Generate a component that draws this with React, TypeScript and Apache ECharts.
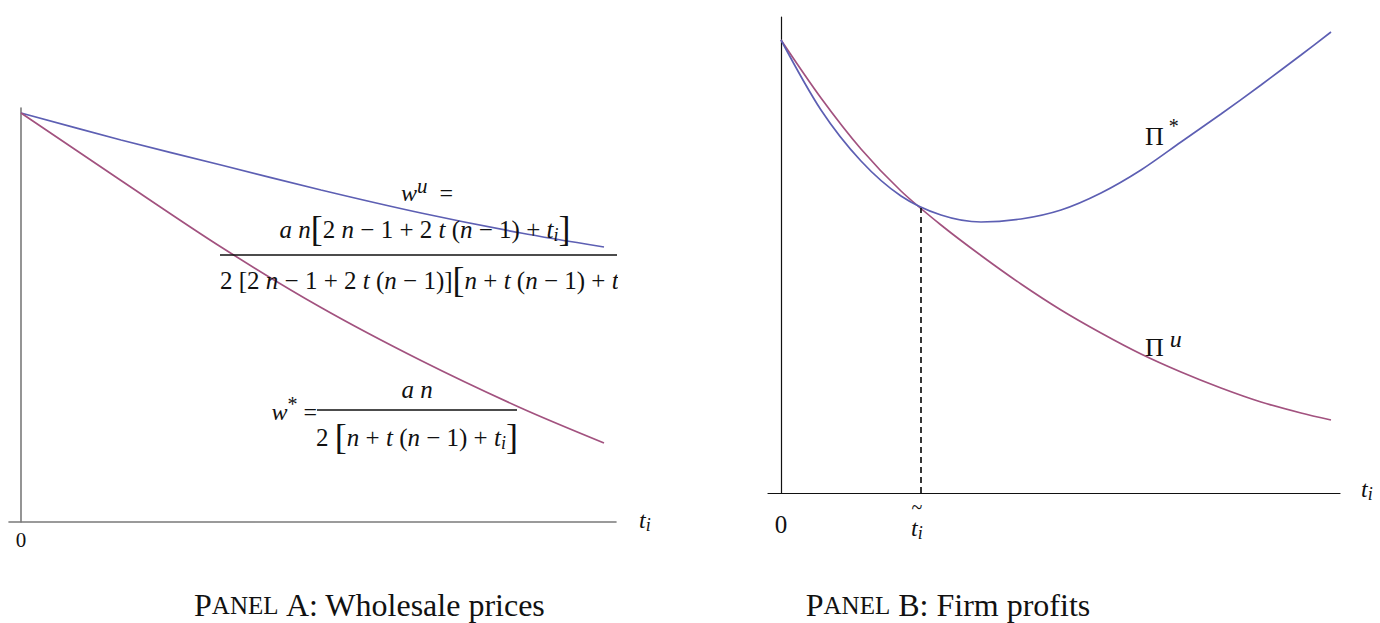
import React, { useEffect, useRef } from "react";
import * as echarts from "echarts";

// Panel A: wholesale prices (t_i on x axis)
const tA = [0, 1, 2, 3, 4, 5, 5.83];
const wU = [4.09, 3.82, 3.57, 3.32, 3.09, 2.89, 2.75];
const wStar = [4.09, 3.415, 2.75, 2.145, 1.615, 1.14, 0.79];

// Panel B: firm profits
const tPiStar = [0, 0.4, 0.8, 1.2, 1.6, 2.0, 2.4, 2.8, 3.2, 3.6, 4.0, 4.4, 4.8, 5.2, 5.5];
const piStar = [4.53, 3.83, 3.32, 2.97, 2.78, 2.71, 2.74, 2.83, 3.0, 3.23, 3.51, 3.79, 4.08, 4.38, 4.61];
const tPiU = [0, 0.4, 0.8, 1.2, 1.6, 2.0, 2.4, 2.8, 3.2, 3.6, 4.0, 4.4, 4.8, 5.2, 5.5];
const piU = [4.53, 3.95, 3.44, 3.02, 2.68, 2.375, 2.09, 1.83, 1.6, 1.39, 1.21, 1.05, 0.91, 0.8, 0.73];
const tTilde = 1.4;
const crossV = 2.85;

const BLUE = "#5d5fb3";
const PURPLE = "#a2527f";
const FAM = '"Liberation Serif"';
const f = (size: number, italic = false) => `${italic ? "italic " : ""}${size}px ${FAM}`;
const INK = "#111";

const rich = {
  it: { font: f(25, true), fill: INK, lineHeight: 28 },
  r: { font: f(25), fill: INK, lineHeight: 28 },
  itb: { font: f(24, true), fill: INK, lineHeight: 36 },
  rb: { font: f(24), fill: INK, lineHeight: 36 },
  br: { font: f(36), fill: INK, lineHeight: 30 },
  sub: { font: f(18, true), fill: INK, verticalAlign: "bottom", lineHeight: 14 },
  sup: { font: f(21, true), fill: INK, verticalAlign: "top", lineHeight: 18 },
  star: { font: f(20), fill: INK, verticalAlign: "top", lineHeight: 20 },
  big: { font: f(32), fill: INK },
  sc: { font: f(25), fill: INK },
  z20: { font: f(21), fill: INK },
  z24: { font: f(25), fill: INK },
  lt: { font: f(24, true), fill: INK, lineHeight: 28 },
  tl: { font: f(20), fill: INK, lineHeight: 8 },
  pi: { font: f(26), fill: INK, lineHeight: 40 },
  psup: { font: f(20), fill: INK, verticalAlign: "top", lineHeight: 20 },
  psupi: { font: f(24, true), fill: INK, verticalAlign: "top", lineHeight: 20 },
};

function txt(x: number, y: number, text: string, align = "center") {
  return {
    type: "text",
    x,
    y,
    z: 10,
    style: { legacy: false, text, rich, align, verticalAlign: "middle", font: f(24), fill: INK },
  };
}

function pairs(xs: number[], ys: number[]) {
  return xs.map((x, i) => [x, ys[i]]);
}

export default function App() {
  const ref = useRef<HTMLDivElement>(null);
  useEffect(() => {
    if (!ref.current) return;
    const chart = echarts.init(ref.current, undefined, { renderer: "svg" });
    const axisCommon = {
      type: "value",
      axisTick: { show: false },
      axisLabel: { show: false },
      splitLine: { show: false },
    };
    chart.setOption({
      animation: false,
      backgroundColor: "#fff",
      grid: [
        { left: 9, top: 108, width: 607, height: 414 },
        { left: 768, top: 17, width: 572, height: 476 },
      ],
      xAxis: [
        { ...axisCommon, gridIndex: 0, min: -0.12, max: 5.95, axisLine: { lineStyle: { color: "#7a7a7a", width: 1.6 } } },
        { ...axisCommon, gridIndex: 1, min: -0.13, max: 5.59, axisLine: { lineStyle: { color: "#111", width: 1.2 } } },
      ],
      yAxis: [
        { ...axisCommon, gridIndex: 0, min: 0, max: 4.14, axisLine: { onZero: true, lineStyle: { color: "#7a7a7a", width: 1.6 } } },
        { ...axisCommon, gridIndex: 1, min: 0, max: 4.76, axisLine: { onZero: true, lineStyle: { color: "#111", width: 1.2 } } },
      ],
      series: [
        { type: "line", xAxisIndex: 0, yAxisIndex: 0, data: pairs(tA, wU), smooth: 0.3, showSymbol: false, lineStyle: { color: BLUE, width: 1.7 } },
        { type: "line", xAxisIndex: 0, yAxisIndex: 0, data: pairs(tA, wStar), smooth: 0.3, showSymbol: false, lineStyle: { color: PURPLE, width: 1.7 } },
        { type: "line", xAxisIndex: 1, yAxisIndex: 1, data: pairs(tPiU, piU), smooth: 0.3, showSymbol: false, lineStyle: { color: PURPLE, width: 1.7 } },
        { type: "line", xAxisIndex: 1, yAxisIndex: 1, data: pairs(tPiStar, piStar), smooth: 0.3, showSymbol: false, lineStyle: { color: BLUE, width: 1.7 } },
        {
          type: "line", xAxisIndex: 1, yAxisIndex: 1,
          data: [[tTilde, 0], [tTilde, crossV]],
          showSymbol: false,
          lineStyle: { color: "#111", width: 1.7, type: [6, 4] },
        },
      ],
      graphic: [
        // Panel A formulas
        txt(427, 193, "{itb|w}{sup|u}{rb|  =}"),
        txt(425, 229, "{it|a n}{br|[}{r|2 }{it|n}{r| − 1 + 2 }{it|t}{r| (}{it|n}{r| − 1) + }{it|t}{sub|i}{br|]}"),
        { type: "line", z: 10, shape: { x1: 220, y1: 255, x2: 617, y2: 255 }, style: { stroke: "#111", lineWidth: 1.3 } },
        txt(220, 280, "{r|2 [2 }{it|n}{r| − 1 + 2 }{it|t}{r| (}{it|n}{r| − 1)]}{br|[}{it|n}{r| + }{it|t}{r| (}{it|n}{r| − 1) + }{it|t}{sub|i}", "left"),
        { type: "rect", z: 11, shape: { x: 618, y: 262, width: 40, height: 40 }, style: { fill: "#fff" } },
        txt(317, 412, "{itb|w}{star|*}{rb| =}", "right"),
        txt(417, 389, "{it|a n}"),
        { type: "line", z: 10, shape: { x1: 317, y1: 410, x2: 517, y2: 410 }, style: { stroke: "#111", lineWidth: 1.3 } },
        txt(417, 437, "{r|2 }{br|[}{it|n}{r| + }{it|t}{r| (}{it|n}{r| − 1) + }{it|t}{sub|i}{br|]}"),
        // Panel A axis labels
        txt(21, 540, "{z20|0}"),
        txt(639, 520, "{lt|t}{sub|i}", "left"),
        // Panel B labels
        txt(1145, 136, "{pi|Π}{psup| *}", "left"),
        txt(1145, 347, "{pi|Π}{psupi| u}", "left"),
        txt(781, 524, "{z24|0}"),
        txt(911, 528, "{lt|t}{sub|i}", "left"),
        txt(917, 507, "{tl|~}"),
        txt(1361, 489, "{lt|t}{sub|i}", "left"),
        // Titles
        txt(370, 605, "{big|P}{sc|ANEL}{big| A: Wholesale prices}"),
        txt(948, 605, "{big|P}{sc|ANEL}{big| B: Firm profits}"),
      ],
    });
    return () => chart.dispose();
  }, []);
  return <div ref={ref} style={{ position: "absolute", left: 0, top: 0, width: 1380, height: 623 }} />;
}
